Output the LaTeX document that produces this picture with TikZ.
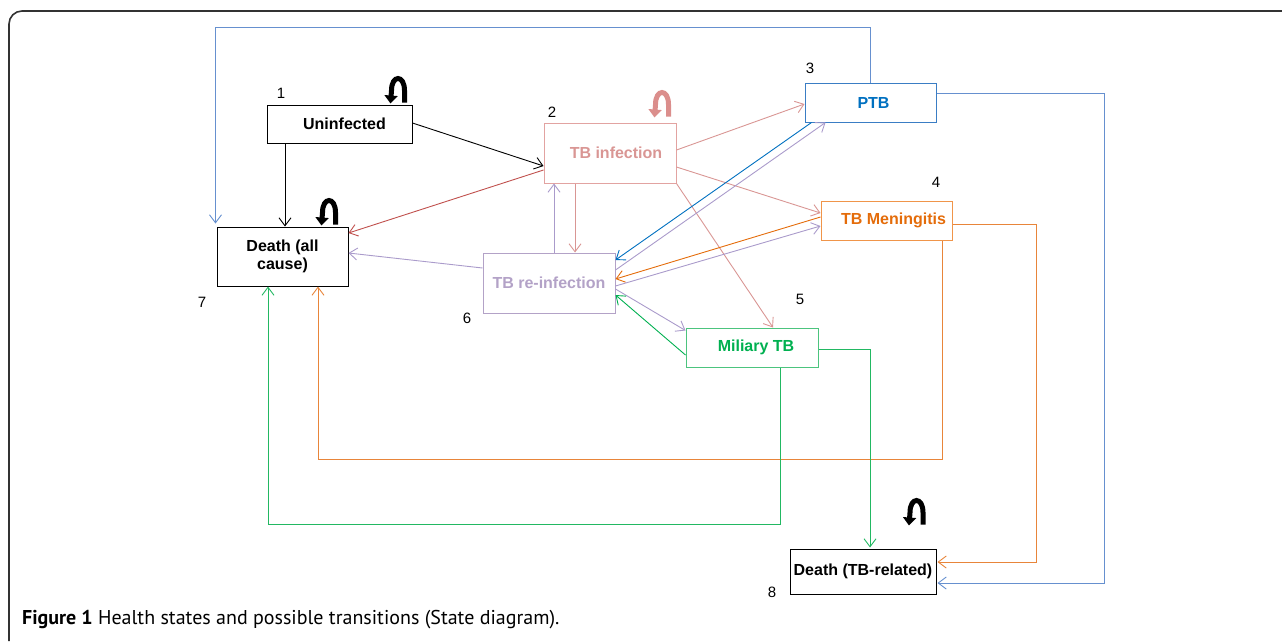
\documentclass[tikz,border=0pt]{standalone}
\usepackage{fontspec}
\setmainfont{Liberation Sans}
\newfontfamily\capfont{PT Sans}
\usetikzlibrary{arrows.meta,calc}
\definecolor{pinkc}{HTML}{D99694}
\definecolor{pinkl}{HTML}{DB8E8C}
\definecolor{pinkb}{HTML}{E2A3A1}
\definecolor{redc}{HTML}{C0504D}
\definecolor{bluec}{HTML}{0070C0}
\definecolor{blueb}{HTML}{3A7DC4}
\definecolor{bluel}{HTML}{6690CF}
\definecolor{orangec}{HTML}{E46C0A}
\definecolor{orangeb}{HTML}{F0954A}
\definecolor{orangel}{HTML}{E8853A}
\definecolor{greenc}{HTML}{00B050}
\definecolor{greenb}{HTML}{4CC47E}
\definecolor{greenl}{HTML}{22B862}
\definecolor{lavc}{HTML}{B3A2C7}
\definecolor{lavl}{HTML}{AA9BCB}
\definecolor{framec}{HTML}{333333}
\tikzset{
  box/.style={draw, line width=1pt, inner sep=0pt, align=center,
    font=\fontsize{16}{18.5}\selectfont\bfseries},
  num/.style={inner sep=0pt, font=\fontsize{15}{18}\selectfont},
  arr/.style={line width=0.9pt, -{Straight Barb[length=8pt,width=12pt]}},
  selfloop/.pic={
    \draw[line width=5pt, pic actions, -{Triangle[length=8pt,width=13pt]}]
      (0,0) -- (0,-12) .. controls (0,-28) and (-13,-28) .. (-13,-12) -- (-14,1);
  }
}
\begin{document}
\begin{tikzpicture}[x=1pt,y=-1pt]
\useasboundingbox (0,0) rectangle (1282,641);
% frame
\draw[line width=1.6pt, framec, rounded corners=13pt] (9,641) -- (9,11) -- (1282,11);

% states
\node[box, minimum width=145pt, minimum height=38pt] (uninf) at (339.5,124) {\hspace{10pt}Uninfected};
\node[box, draw=pinkb, text=pinkc, minimum width=132pt, minimum height=60pt] (tbinf) at (610,153) {\hspace{12pt}TB infection};
\node[box, draw=blueb, text=bluec, minimum width=131pt, minimum height=39pt] (ptb) at (870.5,102.5) {\hspace{6pt}PTB};
\node[box, draw=orangeb, text=orangec, minimum width=131pt, minimum height=39pt] (tbm) at (886.5,220.5) {\hspace{14pt}TB Meningitis};
\node[box, draw=greenb, text=greenc, minimum width=132pt, minimum height=39pt] (mil) at (752,347.5) {\hspace{8pt}Miliary TB};
\node[box, draw=lavc, text=lavc, minimum width=132pt, minimum height=60pt] (reinf) at (549,283) {TB re-infection};
\node[box, minimum width=131pt, minimum height=59pt] (death) at (282.5,256.5) {Death (all\\cause)};
\node[box, minimum width=146pt, minimum height=45pt] (deathtb) at (863,571.5) {Death (TB-related)};

% numbers
\node[num] (n1) at (281,93) {1};
\node[num] (n2) at (552,112) {2};
\node[num] (n3) at (810,68) {3};
\node[num] (n4) at (936,182) {4};
\node[num] (n5) at (800,299) {5};
\node[num] (n6) at (467,318) {6};
\node[num] (n7) at (202,302) {7};
\node[num] (n8) at (772,592) {8};

% self loops
\pic[black] at ([shift={(-8pt,2pt)}]uninf.north east) {selfloop};
\pic[pinkl] at ([shift={(-8pt,6pt)}]tbinf.north east) {selfloop};
\pic[black] at ([shift={(-13pt,2pt)}]death.north east) {selfloop};
\pic[black] at ([shift={(-13.5pt,24pt)}]deathtb.north east) {selfloop};

% helper coordinates
\coordinate (top) at (0,27);
\coordinate (rb) at (1104,0);
\coordinate (ro) at (1036,0);
\coordinate (bo) at (0,459);
\coordinate (bg) at (0,524);
\coordinate (gm) at (870,0);

% black
\draw[arr, black] ([yshift=1pt]uninf.east) -- ([yshift=-13pt]tbinf.west);
\draw[arr, black] ([xshift=2.5pt]death.north |- uninf.south) -- ([xshift=2.5pt]death.north);
% red
\draw[arr, redc] ([yshift=-17pt]tbinf.west) -- ([yshift=23.5pt]death.east);
% lavender to death
\draw[arr, lavl] ([yshift=15pt]reinf.west) -- ([yshift=3.5pt]death.east);
% pink from TB infection
\draw[arr, pinkc] ([yshift=3pt]tbinf.east) -- ([yshift=-1.5pt]ptb.west);
\draw[arr, pinkc] ([yshift=-14pt]tbinf.east) -- ([yshift=7.5pt]tbm.west);
\draw[arr, pinkc] (tbinf.south east) -- ([xshift=21pt]mil.north);
\draw[arr, pinkc] ([xshift=-35pt]tbinf.south) -- ([xshift=26pt]reinf.north);
% lavender up
\draw[arr, lavl] ([xshift=5pt]reinf.north) -- ([xshift=-56pt]tbinf.south);
% PTB <-> reinf
\draw[arr, bluec] ([xshift=7pt]ptb.south west) -- ([yshift=23pt]reinf.east);
\draw[arr, lavl] ([yshift=13pt]reinf.east) -- ([xshift=21pt]ptb.south west);
% TBM <-> reinf
\draw[arr, orangec] ([yshift=3.5pt]tbm.west) -- ([yshift=4pt]reinf.east);
\draw[arr, lavl] ([yshift=-3pt]reinf.east) -- ([yshift=-5.5pt]tbm.west);
% Miliary <-> reinf
\draw[arr, lavl] ([yshift=-6pt]reinf.east) -- ([yshift=17pt]mil.west);
\draw[arr, greenc] ([yshift=-7.5pt]mil.west) -- ([yshift=-12pt]reinf.east);

% long routes
\draw[arr, bluel] (ptb.north) -- (ptb.north |- top) -- ([xshift=-1pt]death.north west |- top) -- ([xshift=-1pt,yshift=3pt]death.north west);
\draw[arr, bluel] ([yshift=9.5pt]ptb.east) -- ([yshift=9.5pt]ptb.east -| rb) -- ([yshift=-11.5pt]deathtb.east -| rb) -- ([xshift=1pt,yshift=-11.5pt]deathtb.east);
\draw[arr, orangel] ([yshift=-3.5pt]tbm.east) -- ([yshift=-3.5pt]tbm.east -| ro) -- ([yshift=9.5pt]deathtb.east -| ro) -- ([xshift=1pt,yshift=9.5pt]deathtb.east);
\draw[arr, orangel] ([xshift=-10pt]tbm.south east) -- ([xshift=-10pt]tbm.south east |- bo) -- ([xshift=35.5pt]death.south |- bo) -- ([xshift=35.5pt]death.south);
\draw[arr, greenl] ([xshift=28pt]mil.south) -- ([xshift=28pt]mil.south |- bg) -- ([xshift=-14.5pt]death.south |- bg) -- ([xshift=-14.5pt]death.south);
\draw[arr, greenl] ([yshift=-1.5pt]mil.east) -- ([yshift=-1.5pt]mil.east -| gm) -- ([yshift=1pt]deathtb.north -| gm);

% caption
\node[anchor=base west, inner sep=0pt, font=\capfont\fontsize{20}{24}\selectfont] (cap) at (22,624) {\textbf{Figure 1} Health states and possible transitions (State diagram).};
\end{tikzpicture}
\end{document}
